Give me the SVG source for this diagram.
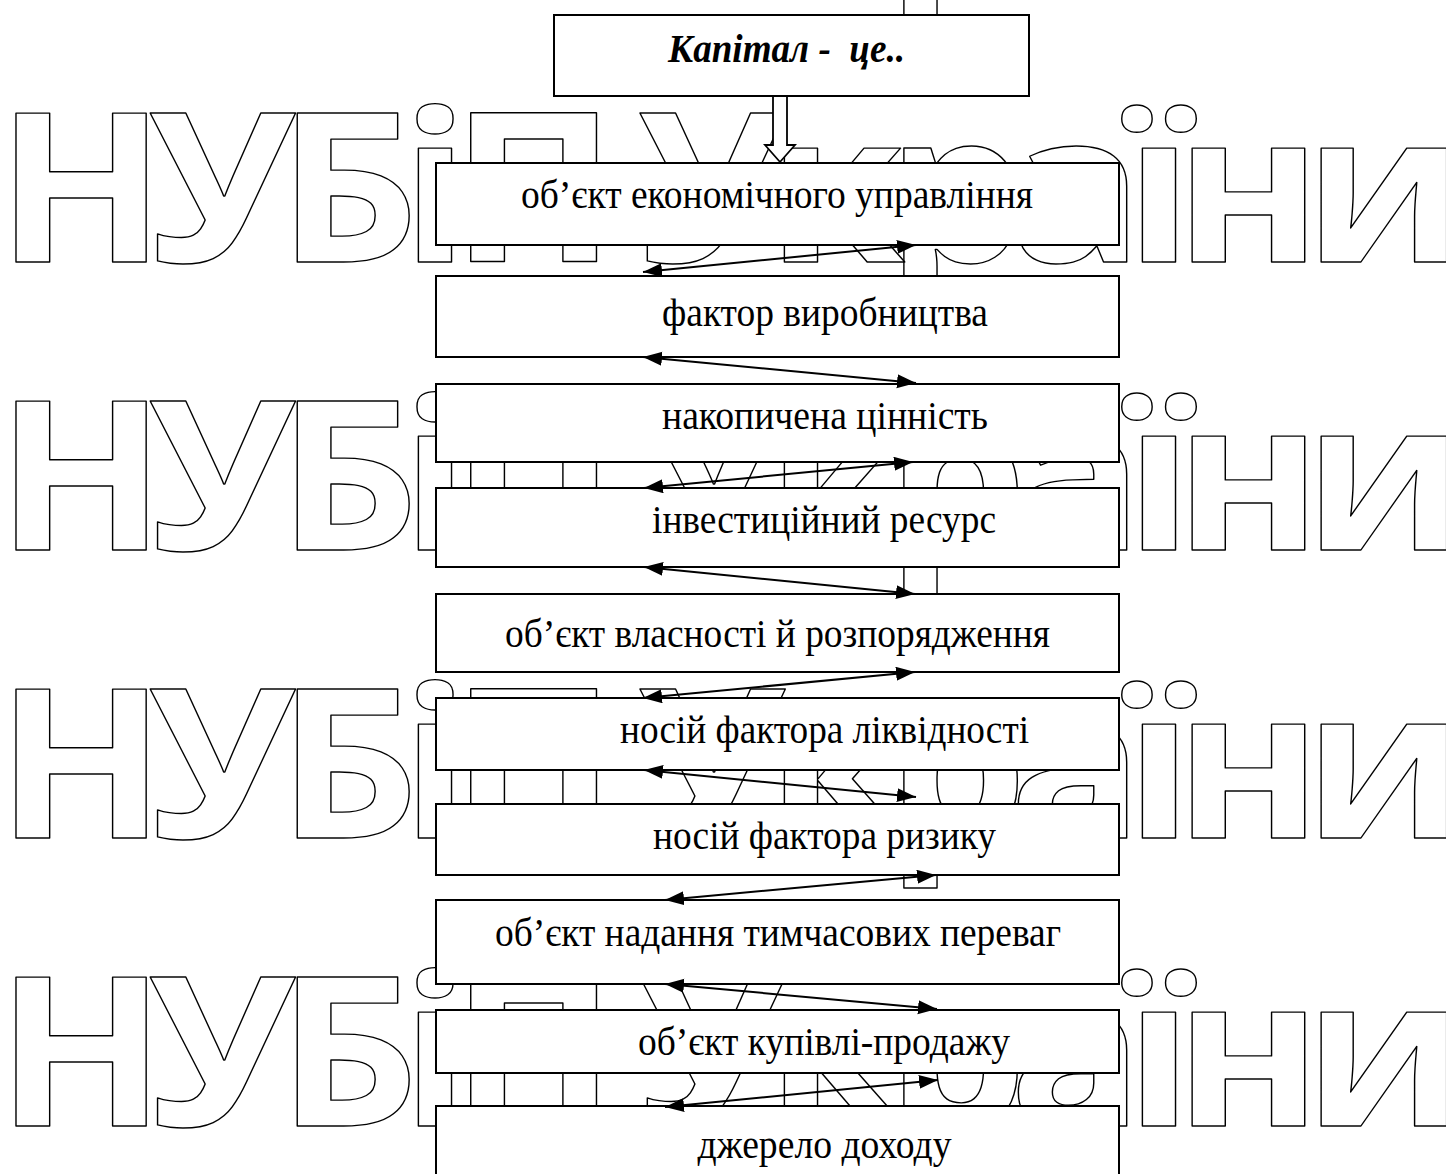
<svg xmlns="http://www.w3.org/2000/svg" width="1446" height="1174" viewBox="0 0 1446 1174">
<style>
.wm{font-family:"Open Sans","DejaVu Sans",sans-serif;font-weight:700;font-size:208px;fill:none;stroke:#000;stroke-width:1.35;stroke-linejoin:round}
.box{fill:#fff;stroke:#000;stroke-width:2}
.t{font-family:"Liberation Serif","Times New Roman",serif;font-size:40px;text-anchor:middle;fill:#000}
.title{font-family:"Liberation Serif","Times New Roman",serif;font-size:40px;font-weight:bold;font-style:italic;text-anchor:middle;white-space:pre;fill:#000}
.ar{stroke:#000;stroke-width:2;fill:none;marker-start:url(#ah);marker-end:url(#ah)}
</style>
<defs>
<marker id="ah" markerUnits="userSpaceOnUse" markerWidth="22" markerHeight="16" refX="19" refY="7" orient="auto-start-reverse">
<path d="M0,0 L19,7 L0,14 Z" fill="#000"/>
</marker>
</defs>
<rect width="1446" height="1174" fill="#fff"/>
<g id="watermark" transform="scale(1.07,1)">
<text class="wm" x="-3.7" y="-26" textLength="1372" lengthAdjust="spacing">НУБіП України</text>
<text class="wm" x="-3.7" y="262" textLength="1372" lengthAdjust="spacing">НУБіП України</text>
<text class="wm" x="-3.7" y="550" textLength="1372" lengthAdjust="spacing">НУБіП України</text>
<text class="wm" x="-3.7" y="838" textLength="1372" lengthAdjust="spacing">НУБіП України</text>
<text class="wm" x="-3.7" y="1126" textLength="1372" lengthAdjust="spacing">НУБіП України</text>
</g>
<g id="n1"><rect class="box" x="554" y="15" width="475" height="81"/><text class="title" x="786.5" y="62" textLength="237" lengthAdjust="spacingAndGlyphs">Капітал -  це..</text></g>
<g id="n2"><rect class="box" x="436" y="163" width="683" height="82"/><text class="t" x="777" y="208" textLength="512" lengthAdjust="spacingAndGlyphs">об’єкт економічного управління</text></g>
<g id="n3"><rect class="box" x="436" y="276" width="683" height="81"/><text class="t" x="825" y="326" textLength="326" lengthAdjust="spacingAndGlyphs">фактор виробництва</text></g>
<g id="n4"><rect class="box" x="436" y="384" width="683" height="78"/><text class="t" x="825" y="429" textLength="326" lengthAdjust="spacingAndGlyphs">накопичена цінність</text></g>
<g id="n5"><rect class="box" x="436" y="488" width="683" height="79"/><text class="t" x="824" y="533" textLength="344" lengthAdjust="spacingAndGlyphs">інвестиційний ресурс</text></g>
<g id="n6"><rect class="box" x="436" y="594" width="683" height="78"/><text class="t" x="777.5" y="647" textLength="545" lengthAdjust="spacingAndGlyphs">об’єкт власності й розпорядження</text></g>
<g id="n7"><rect class="box" x="436" y="698" width="683" height="72"/><text class="t" x="824.5" y="743" textLength="409" lengthAdjust="spacingAndGlyphs">носій фактора ліквідності</text></g>
<g id="n8"><rect class="box" x="436" y="804" width="683" height="71"/><text class="t" x="824.5" y="849" textLength="343" lengthAdjust="spacingAndGlyphs">носій фактора ризику</text></g>
<g id="n9"><rect class="box" x="436" y="900" width="683" height="84"/><text class="t" x="778" y="946" textLength="566" lengthAdjust="spacingAndGlyphs">об’єкт надання тимчасових переваг</text></g>
<g id="n10"><rect class="box" x="436" y="1010" width="683" height="63"/><text class="t" x="824" y="1055" textLength="372" lengthAdjust="spacingAndGlyphs">об’єкт купівлі-продажу</text></g>
<g id="n11"><rect class="box" x="436" y="1106" width="683" height="90"/><text class="t" x="824.5" y="1158" textLength="254" lengthAdjust="spacingAndGlyphs">джерело доходу</text></g>
<g id="connectors">
<path d="M773,96 L787,96 L787,145 L795,145 L780,162 L765,145 L773,145 Z" fill="#fff" stroke="#000" stroke-width="1.8" stroke-linejoin="miter"/>
<line class="ar" x1="643" y1="272" x2="916" y2="245"/>
<line class="ar" x1="643" y1="357" x2="916" y2="383"/>
<line class="ar" x1="644" y1="488" x2="913" y2="462"/>
<line class="ar" x1="644" y1="567" x2="915" y2="594"/>
<line class="ar" x1="643" y1="698" x2="915" y2="672"/>
<line class="ar" x1="644" y1="770" x2="916" y2="797"/>
<line class="ar" x1="665" y1="900" x2="936" y2="875"/>
<line class="ar" x1="665" y1="984" x2="937" y2="1009"/>
<line class="ar" x1="665" y1="1107" x2="938" y2="1080"/>
</g>
</svg>
